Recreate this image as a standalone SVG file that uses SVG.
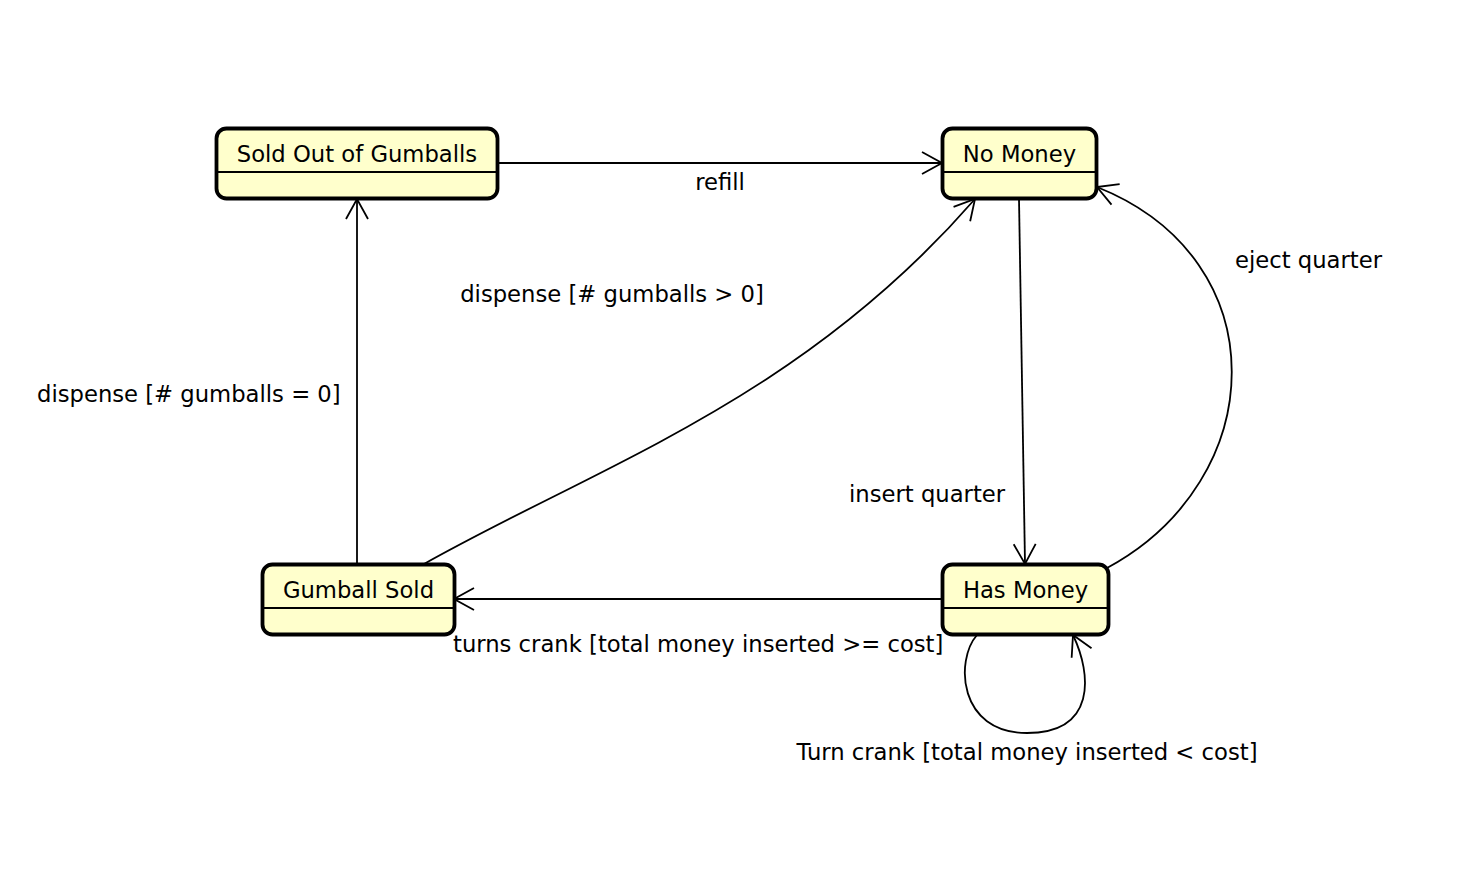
<svg xmlns="http://www.w3.org/2000/svg" width="1460" height="882" viewBox="0 0 1460 882">
<style>
.box{fill:#ffffcc;stroke:#000;stroke-width:3.8}
.div{stroke:#000;stroke-width:1.8}
.edge{fill:none;stroke:#000;stroke-width:1.8;marker-end:url(#arr)}
text{font-family:"DejaVu Sans","Liberation Sans",sans-serif;font-size:22.7px;fill:#000}
.c{text-anchor:middle}
</style>
<defs>
<marker id="arr" markerUnits="userSpaceOnUse" markerWidth="30" markerHeight="30" viewBox="-25 -15 30 30" refX="0" refY="0" orient="auto">
<path d="M-20,-11 L0,0 L-20,11" fill="none" stroke="#000" stroke-width="1.8"/>
</marker>
</defs>
<rect width="1460" height="882" fill="#fff"/>
<g id="connectors">
<path class="edge" d="M498,163 L942,163"/>
<path class="edge" d="M357,564 L357,199"/>
<path class="edge" d="M424,564 C600,465 800,400 975,199"/>
<path class="edge" d="M1019,199 L1025,564"/>
<path class="edge" d="M1107,568 C1270,480 1280,260 1097,187"/>
<path class="edge" d="M942,599 L454,599"/>
<path class="edge" d="M977,635 C955,660 958,733 1027,733 C1096,733 1092,675 1073,635"/>
<text x="720" y="190" class="c">refill</text>
<text x="37" y="402">dispense [# gumballs = 0]</text>
<text x="612" y="302" class="c">dispense [# gumballs &gt; 0]</text>
<text x="849" y="502">insert quarter</text>
<text x="1235" y="268">eject quarter</text>
<text x="453" y="652">turns crank [total money inserted &gt;= cost]</text>
<text x="1027" y="760" class="c">Turn crank [total money inserted &lt; cost]</text>
</g>
<g id="sold-out">
<rect class="box" x="216.5" y="128.5" width="281" height="70" rx="10"/>
<line class="div" x1="218" y1="172" x2="496" y2="172"/>
<text x="357" y="162" class="c">Sold Out of Gumballs</text>
</g>
<g id="no-money">
<rect class="box" x="942.5" y="128.5" width="154" height="70" rx="10"/>
<line class="div" x1="944" y1="172" x2="1095" y2="172"/>
<text x="1019.5" y="162" class="c">No Money</text>
</g>
<g id="has-money">
<rect class="box" x="942.5" y="564.5" width="166" height="70" rx="10"/>
<line class="div" x1="944" y1="608" x2="1107" y2="608"/>
<text x="1025.5" y="598" class="c">Has Money</text>
</g>
<g id="gumball-sold">
<rect class="box" x="262.5" y="564.5" width="192" height="70" rx="10"/>
<line class="div" x1="264" y1="608" x2="453" y2="608"/>
<text x="358.5" y="598" class="c">Gumball Sold</text>
</g>
</svg>
